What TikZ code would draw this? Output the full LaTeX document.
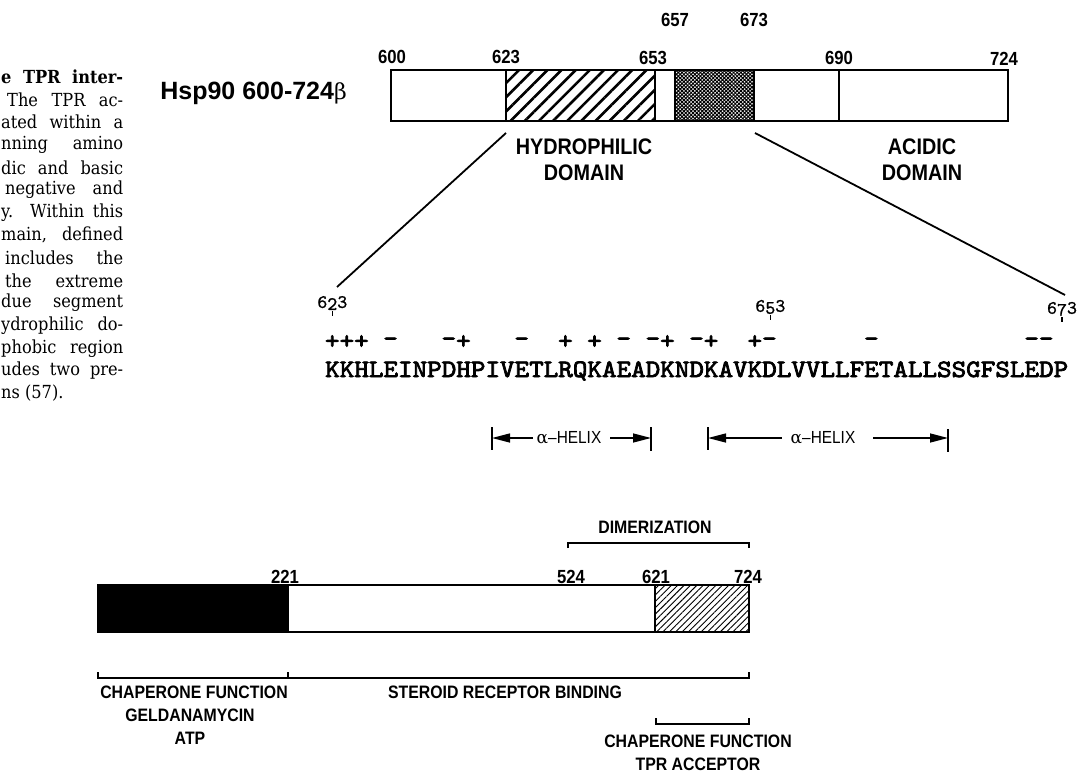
\documentclass[tikz,border=0pt]{standalone}
\usepackage{fontspec}
\setmainfont{Liberation Sans}
\newfontfamily\labf[FakeStretch=0.88]{Liberation Sans}
\newfontfamily\serf{DejaVu Serif}
\newfontfamily\capf[FakeStretch=0.9]{DejaVu Serif}
\newfontfamily\seqf{lmmono10-regular.otf}[FakeBold=3,FakeStretch=1.11]
\newfontfamily\resf{lmmono10-regular.otf}[FakeBold=1]
\usetikzlibrary{patterns.meta,arrows.meta}
\newcommand\fsz[1]{\fontsize{#1}{#1}\selectfont}
\newcommand\jline[1]{\makebox[122pt][s]{#1}}
\tikzset{
  lbl/.style={inner sep=0pt, font=\labf\bfseries\fsz{22.5}},
  num/.style={inner sep=0pt, font=\labf\bfseries\fsz{19}},
  blab/.style={inner sep=0pt, font=\labf\bfseries\fsz{18}},
  captxt/.style={inner sep=0pt, anchor=west, font=\capf\fsz{18}},
  seqtxt/.style={inner sep=0pt, anchor=base west, font=\seqf\fsz{25}},
  chg/.style={inner sep=0pt, font=\seqf\fsz{25}},
  resnum/.style={inner sep=0pt, font=\resf\fsz{19}},
  outl/.style={draw, line width=1.4pt},
  conn/.style={line width=1.8pt},
  brk/.style={line width=1.2pt},
  tk/.style={line width=1.2pt},
  helix/.style={line width=1.4pt, -{Triangle[length=18pt,width=9pt]}},
  hlab/.style={inner sep=0pt, font=\labf\fsz{17.5}},
  hatchA/.style={pattern={Lines[angle=45,distance=10pt,line width=2.6pt]}},
  hatchB/.style={pattern={Lines[angle=45,distance=4.5pt,line width=0.9pt]}},
  stip/.style={pattern={Hatch[angle=45,distance=2.6pt,line width=1.0pt]}},
}
\begin{document}
\begin{tikzpicture}[x=1pt,y=-1pt]
\useasboundingbox (0,0) rectangle (1082,773);
\fill[white] (0,0) rectangle (1082,773);

% caption fragment
\node[captxt,font=\capf\bfseries\fsz{18}] (c1) at (1,77) {\jline{e TPR inter-}};
\node[captxt] (c2) at (1,99.6) {\jline{\hspace*{6pt}The TPR ac-}};
\node[captxt] (c3) at (1,122.2) {\jline{ated within a}};
\node[captxt] (c4) at (1,144.8) {\jline{nning amino}};
\node[captxt] (c5) at (1,167.4) {\jline{dic and basic}};
\node[captxt] (c6) at (1,190) {\jline{\hspace*{4pt}negative and}};
\node[captxt] (c7) at (1,212.6) {\jline{y. Within this}};
\node[captxt] (c8) at (1,235.2) {\jline{main, defined}};
\node[captxt] (c9) at (1,257.8) {\jline{\hspace*{4pt}includes the}};
\node[captxt] (c10) at (1,280.4) {\jline{\hspace*{4pt}the extreme}};
\node[captxt] (c11) at (1,303) {\jline{due segment}};
\node[captxt] (c12) at (1,325.6) {\jline{ydrophilic do-}};
\node[captxt] (c13) at (1,348.2) {\jline{phobic region}};
\node[captxt] (c14) at (1,370.8) {\jline{udes two pre-}};
\node[captxt] (c15) at (1,393.4) {ns (57).};

% top construct
\node[lbl,anchor=east,font=\fontspec{Liberation Sans}\bfseries\fsz{25}] (tname) at (347,93) {Hsp90 600-724{\serf\mdseries\fsz{22}β}};
\fill[hatchA] (506,70) rectangle (655,121);
\fill[stip] (675,70) rectangle (754,121);
\draw[outl] (391,70) rectangle (1008,121);
\draw[outl] (506,70) -- (506,121) (655,70) -- (655,121) (675,70) -- (675,121)
            (754,70) -- (754,121) (839,70) -- (839,121);
\coordinate (hl) at (506,133);
\coordinate (hr) at (755,133);

\node[num] (n600) at (392,57) {600};
\node[num] (n623) at (506,57) {623};
\node[num] (n653) at (653,58) {653};
\node[num] (n690) at (839,58) {690};
\node[num] (n724) at (1004,59) {724};
\node[num] (n657) at (675,20) {657};
\node[num] (n673) at (754,20) {673};

\node[lbl] (hyd1) at (584,147) {HYDROPHILIC};
\node[lbl] (hyd2) at (584,173) {DOMAIN};
\node[lbl] (aci1) at (922,147) {ACIDIC};
\node[lbl] (aci2) at (922,173) {DOMAIN};

% sequence
\coordinate (sl) at (337,287);
\coordinate (sr) at (1065,295);
\draw[conn] (hl) -- (sl);
\draw[conn] (hr) -- (sr);

\node[resnum] (r623) at (332.3,303) {6\raisebox{-2pt}{2}3};
\node[resnum] (r653) at (770.3,307) {6\raisebox{-2pt}{5}3};
\node[resnum] (r673) at (1062,309) {6\raisebox{-2pt}{7}3};
\draw[tk] ([yshift=-1pt]r623.south) -- ++(0,5);
\draw[tk] ([yshift=-1pt]r653.south) -- ++(0,5);
\draw[tk] ([yshift=-1pt]r673.south) -- ++(0,5);

\foreach \i/\c [count=\k] in {1/+,2/+,3/+,5/–,9/–,10/+,14/–,17/+,19/+,21/–,23/–,24/+,26/–,27/+,30/+,31/–,38/–,49/–,50/–}
  \node[chg] (q\k) at ({325+(\i-0.5)*14.57},342) {\c};

\node[seqtxt] (seq) at (325,377) {KKHLEINPDHPIVETLRQKAEADKNDKAVKDLVVLLFETALLSSGFSLEDP};

% alpha helices
\coordinate (a1) at (492,438);
\coordinate (a2) at (651,438);
\coordinate (a3) at (708,438);
\coordinate (a4) at (948,438);
\draw[tk] ([yshift=11pt]a1) -- ([yshift=-12pt]a1);
\draw[tk] ([yshift=11pt]a2) -- ([yshift=-13pt]a2);
\draw[tk] ([yshift=11pt]a3) -- ([yshift=-12pt]a3);
\draw[tk] ([yshift=9pt]a4) -- ([yshift=-14pt]a4);
\node[hlab] (h1) at (569,438) {{\serf\fsz{17}α}–HELIX};
\node[hlab] (h2) at (823,438) {{\serf\fsz{17}α}–HELIX};
\draw[helix] ([xshift=-4pt]h1.west) -- (a1);
\draw[helix] ([xshift=9pt]h1.east) -- (a2);
\draw[helix] ([xshift=-9pt]h2.west) -- (a3);
\draw[helix] ([xshift=18pt]h2.east) -- (a4);

% bottom construct
\fill[black] (98,585) rectangle (288,632);
\fill[hatchB] (655,585) rectangle (749,632);
\draw[outl] (98,585) rectangle (749,632);
\draw[outl] (288,585) -- (288,632) (655,585) -- (655,632);
\node[blab,anchor=east,font=\labf\bfseries\fsz{17}] (bname) at (200,608) {Hsp90{\serf\mdseries\fsz{16}β}};

\node[num] (m221) at (285,577) {221};
\node[num] (m524) at (571,577) {524};
\node[num] (m621) at (656,577) {621};
\node[num] (m724) at (748,577) {724};

\node[blab] (dim) at (655,527) {DIMERIZATION};
\draw[brk] (568,548) -- (568,543) -- (749,543) -- (749,548);

\draw[brk] (98,672) -- (98,678) -- (749,678) -- (749,672);
\draw[brk] (288,672) -- (288,678);
\node[blab] (cf1) at (194,692) {CHAPERONE FUNCTION};
\node[blab] (cf2) at (190,715) {GELDANAMYCIN};
\node[blab] (cf3) at (190,738) {ATP};
\node[blab] (srb) at (505,692) {STEROID RECEPTOR BINDING};
\draw[brk] (656,718) -- (656,724) -- (749,724) -- (749,718);
\node[blab] (tp1) at (698,741) {CHAPERONE FUNCTION};
\node[blab] (tp2) at (698,764) {TPR ACCEPTOR};
\end{tikzpicture}
\end{document}
